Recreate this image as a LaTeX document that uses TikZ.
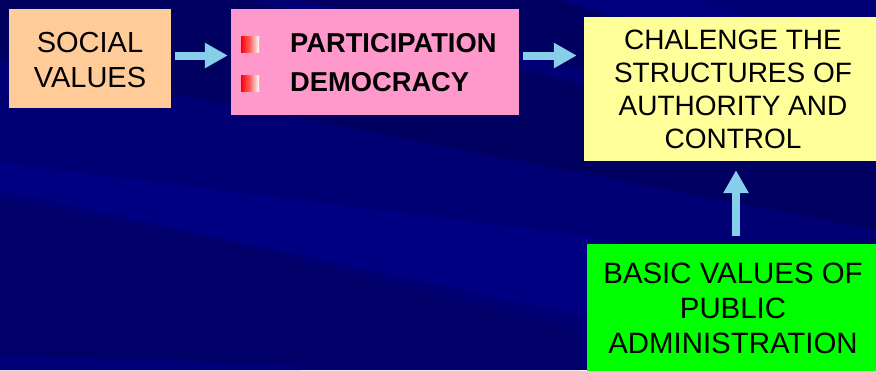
\documentclass[tikz,border=0pt]{standalone}
\usepackage{fontspec}
\setmainfont{Liberation Sans}
\usetikzlibrary{arrows.meta}
\definecolor{bgbase}{RGB}{0,0,116}
\definecolor{bgdark}{RGB}{0,0,96}
\definecolor{bglight}{RGB}{0,0,138}
\definecolor{peach}{RGB}{255,204,153}
\definecolor{pinkbox}{RGB}{255,153,204}
\definecolor{yellowbox}{RGB}{255,255,153}
\definecolor{greenbox}{RGB}{0,255,0}
\definecolor{arrowblue}{RGB}{135,206,235}
\tikzset{
  box/.style={draw=none, inner sep=0pt},
  boxtext/.style={inner sep=0pt, align=center, text=black, anchor=base,
    font=\fontsize{28}{33}\selectfont},
  blockarrow/.style={color=arrowblue, line width=8pt,
    -{Triangle[length=23pt,width=24pt]}},
  itemtext/.style={anchor=base west, inner sep=0pt, font=\fontsize{27.3}{31}\selectfont\bfseries},
  bulletsq/.style={left color=red, right color=white, middle color=red!60!white}
}
\begin{document}
\begin{tikzpicture}[x=1pt,y=-1pt]
\useasboundingbox (0,0) rectangle (876,370);
% background
\fill[bgbase] (0,0) rectangle (876,370);
\fill[bgdark] (0,0) -- (250,0) -- (876,160) -- (876,230) -- (0,60) -- cycle;
\fill[bgdark] (300,0) -- (560,0) -- (876,110) -- (876,140) -- cycle;
\fill[bglight,opacity=0.7] (0,163) -- (580,235) -- (876,300) -- (876,345) -- (580,315) -- (0,190) -- cycle;
\fill[bgdark,opacity=0.6] (0,200) .. controls (250,240) and (450,300) .. (580,330) -- (580,370) -- (0,370) -- cycle;
\fill[bglight,opacity=0.5] (0,355) -- (300,365) -- (300,370) -- (0,370) -- cycle;
\fill[bglight,opacity=0.5] (560,0) -- (700,0) -- (876,70) -- (876,95) -- cycle;

% boxes
\node[box, fill=peach, minimum width=162pt, minimum height=99pt] (social) at (90,58.5) {};
\node[boxtext, font=\fontsize{29}{35}\selectfont] (socialtext) at (90,87) {SOCIAL\\VALUES};
\node[box, fill=pinkbox, minimum width=288pt, minimum height=106pt] (pink) at (375,62) {};
\node[box, fill=yellowbox, minimum width=292pt, minimum height=144pt] (yellow) at (730,89) {};
\node[boxtext] (yellowtext) at (733,148) {CHALENGE THE\\STRUCTURES OF\\AUTHORITY AND\\CONTROL};
\node[box, fill=greenbox, minimum width=289pt, minimum height=132pt, anchor=north west] (green) at (587,244) {};
\node[boxtext, font=\fontsize{29.4}{35}\selectfont] (greentext) at (733,353) {BASIC VALUES OF\\PUBLIC\\ADMINISTRATION};

% bullets and items
\shade[bulletsq] (241,36) rectangle (259,52);
\shade[bulletsq] (241,75) rectangle (259,91);
\node[itemtext] (part) at (290,52) {PARTICIPATION};
\node[itemtext] (demo) at (290,91) {DEMOCRACY};

% arrows
\coordinate (ay) at (0,55.5);
\draw[blockarrow, shorten <=4pt, shorten >=3pt] (social.east |- ay) -- (pink.west |- ay);
\draw[blockarrow, shorten <=4pt, shorten >=7pt] (pink.east |- ay) -- (yellow.west |- ay);
\coordinate (ax) at (736,0);
\draw[blockarrow, shorten <=8pt, shorten >=9pt] (green.north -| ax) -- (yellow.south -| ax);
\end{tikzpicture}
\end{document}
